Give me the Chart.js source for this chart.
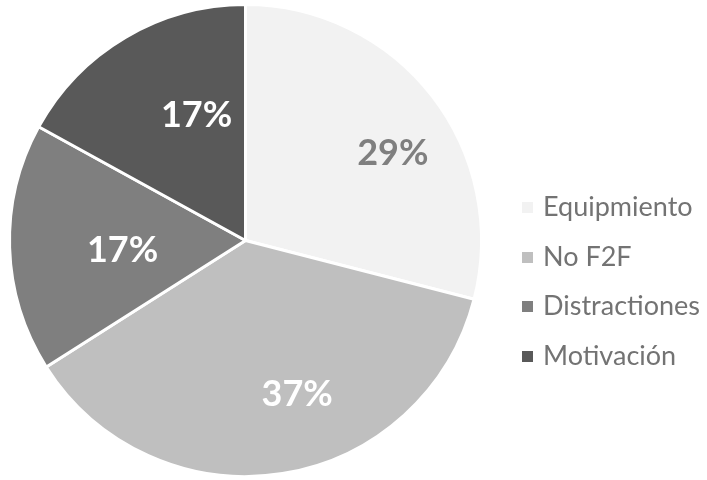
<!DOCTYPE html>
<html>
<head>
<meta charset="utf-8">
<script src="https://cdn.jsdelivr.net/npm/chart.js@4/dist/chart.umd.min.js"></script>
<style>
  html, body { margin: 0; padding: 0; background: #fff; }
  #wrap { position: relative; width: 707px; height: 480px; }
  #legend { position: absolute; left: 522px; top: 183px; margin: 0; padding: 0; list-style: none;
    font-family: Lato, "Noto Sans", sans-serif; font-size: 27px; color: #737373; }
  #legend li { height: 49.5px; line-height: 46px; white-space: nowrap; }
  #legend span.box { display: inline-block; width: 11px; height: 11px; margin-right: 10px; vertical-align: 3px; }
</style>
</head>
<body>
<div id="wrap">
  <canvas id="pie" width="707" height="480"></canvas>
  <ul id="legend"></ul>
</div>
<script>
const categories = ["Equipmiento", "No F2F", "Distractiones", "Motivación"];
const shares = [29, 37, 17, 17];
const sliceColors = ["#f2f2f2", "#bfbfbf", "#7f7f7f", "#595959"];
const labelColors = ["#7f7f7f", "#ffffff", "#ffffff", "#ffffff"];

/* ===== labels inside slices ===== */
const pctLabels = {
  id: "pctLabels",
  afterDatasetsDraw(chart) {
    const ctx = chart.ctx;
    const meta = chart.getDatasetMeta(0);
    ctx.save();
    ctx.font = "bold 36px Lato, 'Noto Sans', sans-serif";
    ctx.textAlign = "center";
    ctx.textBaseline = "middle";
    meta.data.forEach((arc, i) => {
      const p = arc.getProps(["x", "y", "startAngle", "endAngle", "outerRadius"], true);
      const mid = (p.startAngle + p.endAngle) / 2;
      const r = p.outerRadius * 0.64;
      ctx.fillStyle = labelColors[i];
      ctx.fillText(shares[i] + "%", p.x + 28 + Math.cos(mid) * r, p.y + 5 + Math.sin(mid) * r);
    });
    ctx.restore();
  }
};

new Chart(document.getElementById("pie"), {
  type: "pie",
  data: {
    labels: categories,
    datasets: [{
      data: shares,
      backgroundColor: sliceColors,
      borderColor: "#ffffff",
      borderWidth: 3
    }]
  },
  options: {
    responsive: false,
    animation: false,
    layout: { padding: { left: 8, right: 224, top: 3, bottom: 2 } },
    plugins: {
      legend: { display: false },
      tooltip: { enabled: false }
    }
  },
  plugins: [pctLabels]
});

// legend
const legend = document.getElementById("legend");
categories.forEach((name, i) => {
  legend.innerHTML += `<li><span class="box" style="background:${sliceColors[i]}"></span>${name}</li>`;
});
</script>
</body>
</html>
